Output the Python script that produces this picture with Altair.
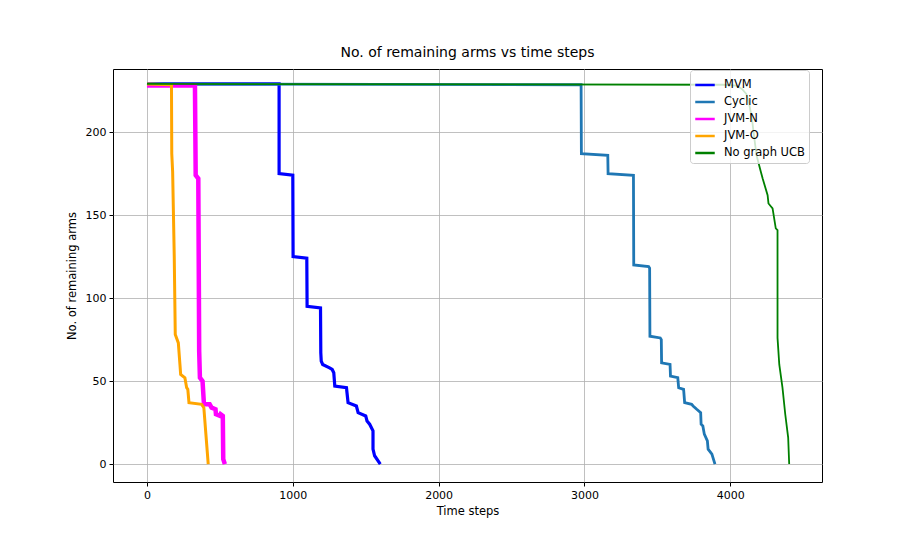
import altair as alt
import pandas as pd

series_names = ["MVM", "Cyclic", "JVM-N", "JVM-O", "No graph UCB"]
series_colors = ["#0000ff", "#1f77b4", "#ff00ff", "#ffa500", "#008000"]
series_widths = [3.2, 2.8, 4.5, 3, 1.8]

mvm_t = [0, 906, 906, 1000, 1002, 1096, 1098, 1190, 1192, 1195, 1205, 1252, 1270, 1281, 1288, 1368, 1379, 1436, 1448, 1500, 1509, 1527, 1550, 1550, 1561, 1600]
mvm_y = [229, 229, 175, 174, 125, 124, 95, 94, 67, 62, 60, 58, 57, 55, 47, 46, 37, 35, 31, 29, 26, 24, 20, 9, 5, 0]

cyc_t = [0, 2977, 2979, 3160, 3162, 3336, 3338, 3440, 3447, 3449, 3520, 3527, 3529, 3587, 3590, 3640, 3646, 3680, 3687, 3735, 3745, 3770, 3797, 3800, 3812, 3822, 3843, 3848, 3874, 3895]
cyc_y = [229, 228.5, 187, 186, 175, 174, 120, 119, 118, 77, 76, 75, 61, 60, 53, 52, 46, 45, 37, 36, 35, 33, 31, 24, 23, 18, 14, 9, 6, 0]

jvmn_t = [0, 329, 334, 352, 358, 363, 381, 390, 400, 430, 443, 470, 473, 500, 505, 520, 523, 534]
jvmn_y = [228, 228, 174, 172, 68, 52, 50, 37, 36, 36, 34, 33, 30, 29, 30, 29, 3, 0]

jvmo_t = [0, 168, 170, 176, 187, 194, 215, 226, 231, 260, 272, 280, 288, 375, 390, 404, 420]
jvmo_y = [229, 228.5, 187, 176, 125, 78, 73, 60, 54, 52, 46, 45, 37, 36, 34, 18, 0]

ucb_t = [0, 3950, 4040, 4080, 4110, 4130, 4150, 4164, 4180, 4210, 4222, 4256, 4262, 4290, 4312, 4324, 4324, 4336, 4358, 4377, 4397, 4404]
ucb_y = [229, 228.5, 228, 226, 223, 217, 207, 197, 186, 176, 172, 162, 157, 154, 142, 141, 76, 60, 46, 30, 16, 0]

x_ticks = [0, 1000, 2000, 3000, 4000]
y_ticks = [0, 50, 100, 150, 200]

frames = []
for name, ts, ys in zip(series_names,
                        [mvm_t, cyc_t, jvmn_t, jvmo_t, ucb_t],
                        [mvm_y, cyc_y, jvmn_y, jvmo_y, ucb_y]):
    frames.append(pd.DataFrame({"series": name, "t": ts, "n": ys, "idx": range(len(ts))}))
df = pd.concat(frames, ignore_index=True)

FONT = "DejaVu Sans"

base = alt.Chart(df).encode(
    x=alt.X("t:Q", scale=alt.Scale(domain=[-233, 4629], nice=False, zero=False),
            axis=alt.Axis(values=x_ticks, format="d", title="Time steps")),
    y=alt.Y("n:Q", scale=alt.Scale(domain=[-10.8, 238], nice=False, zero=False),
            axis=alt.Axis(values=y_ticks, format="d", title="No. of remaining arms")),
    color=alt.Color("series:N", scale=alt.Scale(domain=series_names, range=series_colors),
                    sort=series_names,
                    legend=alt.Legend(title=None, orient="none", legendX=577, legendY=1)),
    order=alt.Order("idx:Q"),
)

layers = [
    base.transform_filter(alt.datum.series == name).mark_line(
        strokeWidth=w, strokeJoin="miter", clip=True)
    for name, w in zip(series_names, series_widths)
]

chart = alt.layer(*layers).properties(
    width=709, height=413,
    autosize=alt.AutoSizeParams(type="none"),
    padding={"left": 105, "top": 61, "right": 83, "bottom": 45},
    title=alt.Title("No. of remaining arms vs time steps", fontSize=14, font=FONT,
                    fontWeight="normal", color="black", offset=9),
).configure_view(
    stroke="black", strokeWidth=1
).configure_axis(
    labelFont=FONT, labelFontSize=11, labelColor="black",
    titleFont=FONT, titleFontSize=11.5, titleFontWeight="normal", titleColor="black",
    tickColor="black", tickSize=4, domain=False,
    gridColor="#b0b0b0", gridWidth=0.8, labelPadding=3,
).configure_axisY(
    titlePadding=8
).configure_axisX(
    titlePadding=5
).configure_legend(
    labelFont=FONT, labelFontSize=11.5, labelColor="black",
    symbolType="stroke", symbolSize=380, symbolStrokeWidth=2.5,
    fillColor="rgba(255,255,255,0.8)", strokeColor="#cccccc", cornerRadius=3,
    padding=4, rowPadding=0, labelOffset=8
)

chart.save("out.html", embed_options={"renderer": "svg", "actions": False})
